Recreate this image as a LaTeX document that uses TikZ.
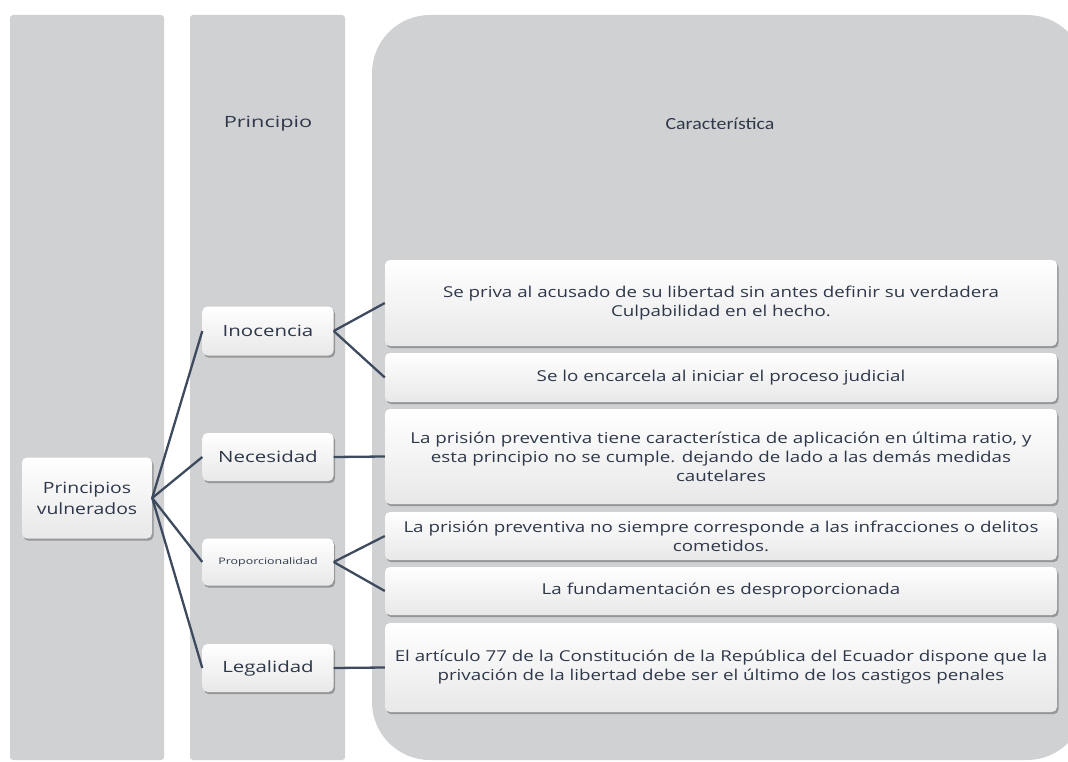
\documentclass[tikz,border=0pt]{standalone}
\usepackage{fontspec}
\setmainfont{Open Sans}
\newfontfamily\calib{Carlito}[FakeStretch=1.17]
\newfontfamily\boxf{Open Sans}[FakeStretch=1.25]
\newfontfamily\leftf{Open Sans}[FakeStretch=1.32]
\newfontfamily\hdrf{Open Sans}[FakeStretch=1.4]
\newfontfamily\tinyf{Open Sans}[FakeStretch=1.38]
\usetikzlibrary{shadows}
\definecolor{colgrey}{RGB}{208,209,211}
\definecolor{txtc}{RGB}{46,56,74}
\definecolor{linec}{RGB}{62,74,94}
\tikzset{
  column/.style={fill=colgrey, draw=none},
  card/.style={rectangle, rounded corners=5pt, draw=none, top color=white, bottom color=black!9,
    drop shadow={shadow xshift=1.5pt, shadow yshift=-2.2pt, opacity=0.55, fill=black!60},
    text=txtc, align=center, inner sep=0pt},
  lbox/.style={card, minimum width=131pt, font=\leftf\fontsize{15.5}{20}\selectfont},
  cbox/.style={card, minimum width=672pt, font=\boxf\fontsize{15}{19}\selectfont},
  link/.style={draw=linec, line width=2.3pt},
}
\begin{document}
\begin{tikzpicture}[x=1pt,y=-1pt]
\useasboundingbox (0,0) rectangle (1068,762);
\begin{scope}
\clip (0,0) rectangle (1068,762);
\fill[column, rounded corners=3pt] (10,15) rectangle (164,760);
\fill[column, rounded corners=3pt] (190,15) rectangle (345,760);
\fill[column, rounded corners=58pt] (372,15) rectangle (1085,760);
\end{scope}
\node[text=txtc, font=\hdrf\fontsize{15.5}{19}\selectfont] (hp) at (268,124) {Principio};
\node[text=txtc, font=\calib\fontsize{17}{20}\selectfont] (hc) at (720,124) {Característica};

\node[lbox, minimum width=130pt, minimum height=81pt, font=\boxf\fontsize{15.5}{21}\selectfont] (pv) at (87,498) {Principios\\vulnerados};
\node[lbox, minimum height=49pt] (ino) at (268,331) {Inocencia};
\node[lbox, minimum height=48pt] (nec) at (268,457) {Necesidad};
\node[lbox, minimum height=47pt, font=\tinyf\fontsize{9}{10}\selectfont] (pro) at (268,562) {Proporcionalidad};
\node[lbox, minimum height=48pt] (leg) at (268,668) {Legalidad};

\node[cbox, minimum height=86pt] (c1) at (721,303) {Se priva al acusado de su libertad sin antes definir su verdadera\\Culpabilidad en el hecho.};
\node[cbox, minimum height=49pt] (c2) at (721,377.5) {Se lo encarcela al iniciar el proceso judicial};
\node[cbox, minimum height=95pt] (c3) at (721,456.5) {La prisión preventiva tiene característica de aplicación en última ratio, y\\esta principio no se cumple. dejando de lado a las demás medidas\\cautelares};
\node[cbox, minimum height=48pt] (c4) at (721,536) {La prisión preventiva no siempre corresponde a las infracciones o delitos\\cometidos.};
\node[cbox, minimum height=48pt] (c5) at (721,591) {La fundamentación es desproporcionada};
\node[cbox, minimum height=89pt] (c6) at (721,667.5) {El artículo 77 de la Constitución de la República del Ecuador dispone que la\\privación de la libertad debe ser el último de los castigos penales};

\draw[link] (pv.east) -- (ino.west);
\draw[link] (pv.east) -- (nec.west);
\draw[link] (pv.east) -- (pro.west);
\draw[link] (pv.east) -- (leg.west);
\draw[link] (ino.east) -- (c1.west);
\draw[link] (ino.east) -- (c2.west);
\draw[link] (nec.east) -- (c3.west);
\draw[link] (pro.east) -- (c4.west);
\draw[link] (pro.east) -- (c5.west);
\draw[link] (leg.east) -- (c6.west);
\end{tikzpicture}
\end{document}
